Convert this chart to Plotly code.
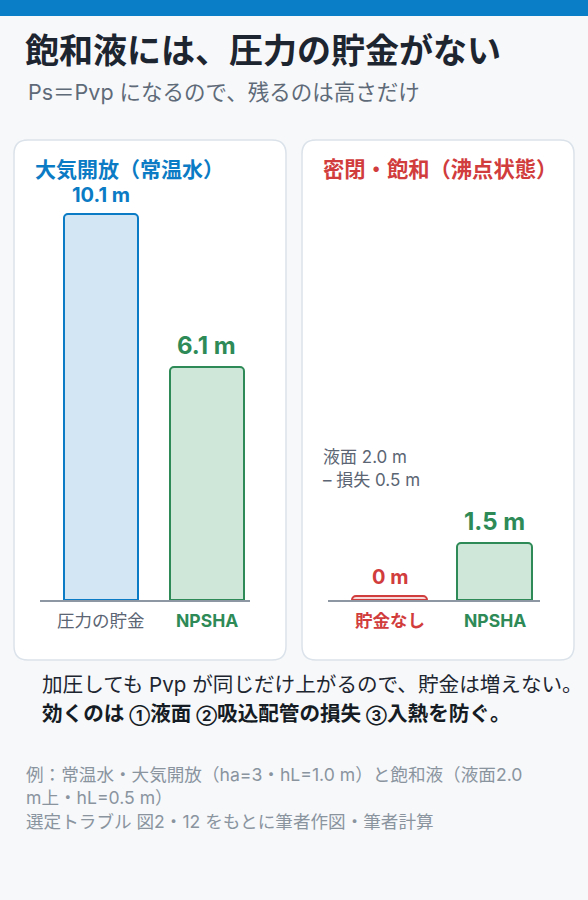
import plotly.graph_objects as go

# ---------------- data ----------------
open_categories = ["圧力の貯金", "NPSHA"]
open_values = [10.1, 6.1]
sat_categories = ["貯金なし", "NPSHA"]
sat_values = [0.0, 1.5]
value_unit = "m"

title_text = "飽和液には、圧力の貯金がない"
subtitle_text = "Ps＝Pvp になるので、残るのは高さだけ"
left_panel_title = "大気開放（常温水）"
right_panel_title = "密閉・飽和（沸点状態）"
note_lines = ["液面 2.0 m", "– 損失 0.5 m"]
body_line1 = "加圧しても Pvp が同じだけ上がるので、貯金は増えない。"
body_line2_parts = ["効くのは ", "①", "液面 ", "②", "吸込配管の損失 ", "③", "入熱を防ぐ。"]
footer_lines = ["例：常温水・大気開放（ha=3・hL=1.0 m）と飽和液（液面2.0",
                "m上・hL=0.5 m）",
                "選定トラブル 図2・12 をもとに筆者作図・筆者計算"]

# ---------------- style ----------------
W, H = 588, 900
FONT = "Inter, 'Noto Sans CJK JP', sans-serif"
BG = "#f6f8fa"
BLUE, BLUE_FILL = "#0a7bc4", "#d3e6f4"
GREEN, GREEN_FILL = "#2e8b57", "#cfe7d9"
RED, RED_FILL = "#d13c3c", "#f7d9d9"
GRAY = "#5b6573"
DARK = "#1d2530"
FOOT = "#8a949f"

def px(x):
    return x / W

def py(y):
    return 1 - y / H

def rounded_rect(x0, y0, x1, y1, r):
    rx, ry = r / W, r / H
    X0, X1 = px(x0), px(x1)
    Y0, Y1 = py(y1), py(y0)
    return (f"M{X0+rx},{Y0} L{X1-rx},{Y0} Q{X1},{Y0} {X1},{Y0+ry} "
            f"L{X1},{Y1-ry} Q{X1},{Y1} {X1-rx},{Y1} L{X0+rx},{Y1} "
            f"Q{X0},{Y1} {X0},{Y1-ry} L{X0},{Y0+ry} Q{X0},{Y0} {X0+rx},{Y0} Z")

MIN_VISIBLE = 0.1  # keep zero-height bars visible as a thin outline
def shown(vals):
    return [max(v, MIN_VISIBLE) for v in vals]

fig = go.Figure()

fig.add_trace(go.Bar(
    x=open_categories, y=shown(open_values), xaxis="x", yaxis="y",
    width=0.70,
    marker=dict(color=[BLUE_FILL, GREEN_FILL],
                line=dict(color=[BLUE, GREEN], width=2), cornerradius=4),
    hoverinfo="skip", showlegend=False))

fig.add_trace(go.Bar(
    x=sat_categories, y=shown(sat_values), xaxis="x2", yaxis="y2",
    width=0.714,
    marker=dict(color=[RED_FILL, GREEN_FILL],
                line=dict(color=[RED, GREEN], width=2), cornerradius=4),
    hoverinfo="skip", showlegend=False))

ydom = [py(600), py(600) + 420 / H]
axis_common = dict(showgrid=False, zeroline=False, showticklabels=False, ticks="")
fig.update_layout(
    width=W, height=H,
    margin=dict(l=0, r=0, t=0, b=0),
    paper_bgcolor=BG, plot_bgcolor="rgba(0,0,0,0)",
    font=dict(family=FONT),
    bargap=0,
    xaxis=dict(domain=[px(40), px(250)], range=[-0.575, 1.406], type="category",
               showline=True, linecolor="#8d97a3", linewidth=2, **axis_common),
    yaxis=dict(domain=ydom, range=[0, 11], showline=False, **axis_common),
    xaxis2=dict(domain=[px(328), px(540)], range=[-0.586, 1.433], type="category",
                showline=True, linecolor="#8d97a3", linewidth=2, anchor="y2",
                **axis_common),
    yaxis2=dict(domain=ydom, range=[0, 11], anchor="x2", showline=False, **axis_common),
)

shapes = [
    dict(type="rect", xref="paper", yref="paper", x0=0, x1=1, y0=py(16), y1=1,
         fillcolor="#0a7fc7", line=dict(width=0), layer="below"),
    dict(type="path", xref="paper", yref="paper", path=rounded_rect(14, 140, 286, 660, 14),
         fillcolor="white", line=dict(color="#dbe2ea", width=1.5), layer="below"),
    dict(type="path", xref="paper", yref="paper", path=rounded_rect(302, 140, 574, 660, 14),
         fillcolor="white", line=dict(color="#dbe2ea", width=1.5), layer="below"),
]
fig.update_layout(shapes=shapes)

ann = []

def text(x, y, s, size, color, bold=False, xanchor="left"):
    ann.append(dict(xref="paper", yref="paper", x=px(x), y=py(y), text=(f"<b>{s}</b>" if bold else s),
                    showarrow=False, xanchor=xanchor, yanchor="middle",
                    font=dict(size=size, color=color, family=FONT)))

text(23, 51, title_text, 34, DARK, bold=True)
text(26, 92, subtitle_text, 21.5, "#5f6a78")
text(33, 169, left_panel_title, 21, BLUE, bold=True)
text(321, 169, right_panel_title, 21.3, RED, bold=True)
text(321, 457, note_lines[0], 17, GRAY)
text(321, 480, note_lines[1], 17, GRAY)
text(40, 684, body_line1, 20.6, DARK)
circled = {"①", "②", "③"}
line2 = "".join(f"<span style='font-size:15px'>{p}</span>" if p in circled else p
                for p in body_line2_parts)
text(40, 713, line2, 20.6, "#161c24", bold=True)
for i, line in enumerate(footer_lines):
    text(24, [774, 797, 821][i], line, 17.6, FOOT)

def bar_labels(cats, vals, xr, yr, colors, sizes, cat_colors, cat_bold):
    disp = shown(vals)
    for c, v, d, col, sz, cc, cb in zip(cats, vals, disp, colors, sizes, cat_colors, cat_bold):
        ann.append(dict(xref=xr, yref=yr, x=c, y=d, text=f"<b>{v:g} {value_unit}</b>",
                        showarrow=False, yanchor="bottom", yshift=5,
                        font=dict(size=sz, color=col, family=FONT)))
        ann.append(dict(xref=xr, yref=yr, x=c, y=0, text=(f"<b>{c}</b>" if cb else c),
                        showarrow=False, yanchor="top", yshift=-8,
                        font=dict(size=17.5, color=cc, family=FONT)))

bar_labels(open_categories, open_values, "x", "y", [BLUE, GREEN], [20, 24],
           [GRAY, GREEN], [False, True])
bar_labels(sat_categories, sat_values, "x2", "y2", [RED, GREEN], [20, 24],
           [RED, GREEN], [True, True])

fig.update_layout(annotations=ann)

fig.write_html("out.html", config={"displayModeBar": False},
               post_script="document.body.style.margin='0';")
